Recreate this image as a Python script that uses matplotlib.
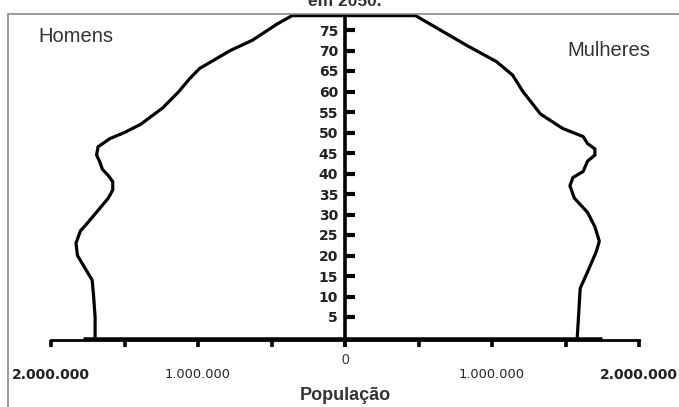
import matplotlib
matplotlib.use("Agg")
import matplotlib.pyplot as plt
from matplotlib.patches import Rectangle

plt.rcParams['font.family'] = ['Liberation Sans', 'DejaVu Sans']

# Projected population by single age (millions), outline of the pyramid
ages_men = [0, 5, 10, 14, 17, 20, 23, 26, 28, 31, 34, 36, 38, 39.5, 41, 43,
            44.5, 46.5, 48.5, 50, 52, 56, 60, 63, 65.6, 70, 72.5, 76.5, 78.5, 78.5]
men = [1.70, 1.70, 1.71, 1.72, 1.77, 1.82, 1.83, 1.80, 1.75, 1.68, 1.61,
       1.58, 1.58, 1.61, 1.65, 1.67, 1.69, 1.68, 1.60, 1.50, 1.39, 1.24, 1.13,
       1.06, 0.99, 0.78, 0.63, 0.46, 0.36, 0.0]

ages_women = [0, 6, 12, 16, 21, 23.5, 27, 30.5, 34, 37, 39, 40.5, 43, 44.5,
              46, 47.3, 49, 51, 54.5, 60, 64, 67.3, 71.2, 76, 78.5, 78.5]
women = [1.58, 1.59, 1.60, 1.65, 1.71, 1.73, 1.70, 1.65, 1.56, 1.53, 1.55,
         1.62, 1.65, 1.70, 1.70, 1.65, 1.62, 1.48, 1.33, 1.21, 1.14, 1.03, 0.83,
         0.60, 0.48, 0.0]

# newborns (age 0), drawn as the base of the pyramid
base_men = 1.78
base_women = 1.75

age_ticks = list(range(5, 80, 5))
pop_ticks = [-2.0, -1.5, -1.0, -0.5, 0.0, 0.5, 1.0, 1.5, 2.0]
pop_labels = ['2.000.000', '', '1.000.000', '', '', '', '1.000.000', '', '2.000.000']

W, H = 679, 407
fig = plt.figure(figsize=(W / 100, H / 100), dpi=100)
fig.patch.set_facecolor('white')

# outer gray frame
fig.patches.append(Rectangle((8 / W, -0.2), 1.5, 0.2 + 1 - 14 / H,
                             transform=fig.transFigure, fill=False,
                             edgecolor='#8a8a8a', linewidth=1.2))

y_bottom_px = 337.5 + 1.8 * 4.1
y_top_px = 337.5 - 78.5 * 4.1
ax = fig.add_axes([0, (H - y_bottom_px) / H, 1, (y_bottom_px - y_top_px) / H])
ax.set_xlim(-345 / 147 * 1e6, 334 / 147 * 1e6)
ax.set_ylim(-1.8, 78.5)
ax.patch.set_alpha(0)

ax.plot([-v * 1e6 for v in men], ages_men, color='black', lw=2.3,
        solid_joinstyle='round', solid_capstyle='butt', clip_on=False)
ax.plot([v * 1e6 for v in women], ages_women, color='black', lw=2.3,
        solid_joinstyle='round', solid_capstyle='butt', clip_on=False)
ax.hlines(0, -base_men * 1e6, base_women * 1e6, color='black', lw=1.8)

for s in ('top', 'right'):
    ax.spines[s].set_visible(False)
ax.spines['left'].set_position(('data', 0))
ax.spines['left'].set_linewidth(2.6)
ax.spines['bottom'].set_position(('data', -0.7))
ax.spines['bottom'].set_bounds(-2e6, 2e6)
ax.spines['bottom'].set_linewidth(2.0)

ax.set_yticks(age_ticks)
ax.set_yticklabels([str(a) for a in age_ticks], fontsize=10, fontweight='bold',
                   color='#222222', family='DejaVu Sans')
ax.tick_params(axis='y', direction='in', length=7, width=3, pad=5)

ax.set_xticks([p * 1e6 for p in pop_ticks])
ax.set_xticklabels(pop_labels, fontsize=9.3, color='#222222', family='DejaVu Sans')
ax.tick_params(axis='x', direction='out', length=5, width=2.6, pad=15)
for lab in ax.get_xticklabels():
    if lab.get_text().startswith('2'):
        lab.set_fontweight('bold')
        lab.set_fontsize(10)

ax.annotate('0', xy=(0, -0.7), xycoords='data', xytext=(0, -9),
            textcoords='offset points', ha='center', va='top',
            fontsize=10, color='#333333')

fig.text(38 / W, 1 - 36 / H, 'Homens', fontsize=14.5, color='#333333',
         ha='left', va='center')
fig.text(567 / W, 1 - 50 / H, 'Mulheres', fontsize=14.5, color='#333333',
         ha='left', va='center')
fig.text(345 / W, 1 - 396 / H, 'População', fontsize=13, fontweight='bold',
         color='#333333', ha='center', va='center')
fig.text(345 / W, 1 - 6 / H, 'em 2050.', fontsize=12.5, fontweight='bold',
         color='#333333', ha='center', va='baseline')

fig.savefig('out.png', dpi=100)
